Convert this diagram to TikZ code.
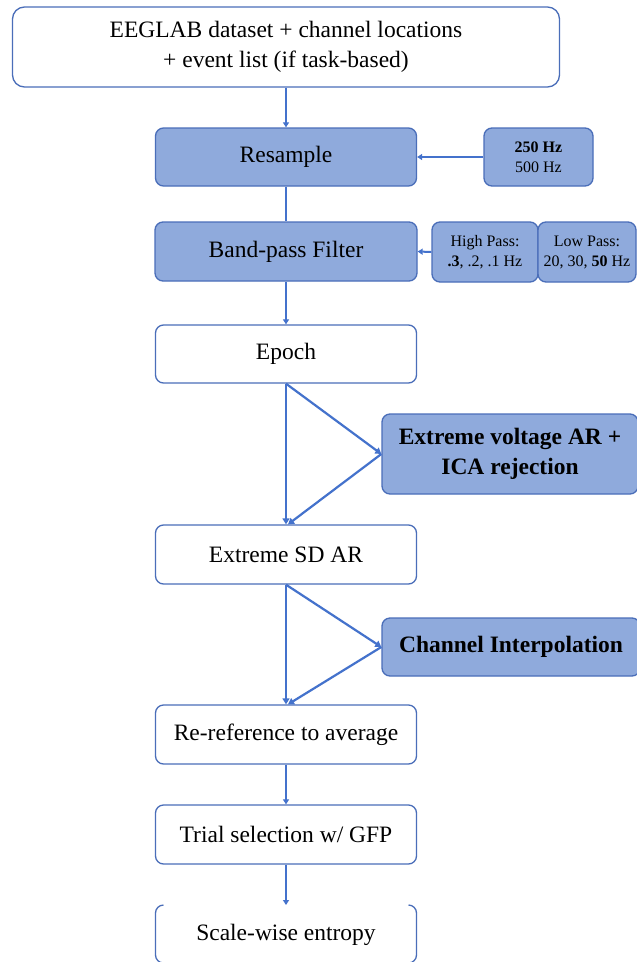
\documentclass[tikz,border=0pt]{standalone}
\usepackage{fontspec}
\setmainfont{Liberation Serif}
\usetikzlibrary{arrows.meta}
\definecolor{boxblue}{RGB}{143,170,220}
\definecolor{edgeblue}{RGB}{74,110,185}
\definecolor{linkblue}{RGB}{68,114,204}
\begin{document}
\begin{tikzpicture}[x=1pt,y=1pt,
  basebox/.style={draw=edgeblue, line width=1.3pt, rounded corners=8pt, align=center, inner sep=0pt,
    font=\fontsize{23.5}{30}\selectfont},
  whitebox/.style={basebox, fill=white},
  bluebox/.style={basebox, fill=boxblue},
  smallbox/.style={basebox, fill=boxblue, font=\fontsize{16}{20}\selectfont},
  link/.style={draw=linkblue, line width=2pt},
  arr/.style={link, -{Triangle[length=5pt,width=6pt]}},
  diag/.style={draw=linkblue, line width=2.2pt, -{Triangle[length=6pt,width=7pt]}}
]
\clip (0,0) rectangle (637,-962);
\fill[white] (0,0) rectangle (637,-962);

\node[whitebox, rounded corners=12pt, minimum width=547pt, minimum height=80pt] (top) at (286,-47)
  {EEGLAB dataset + channel locations\\+ event list (if task-based)};
\node[bluebox, minimum width=261pt, minimum height=58pt] (res) at (286,-157) {Resample};
\node[smallbox, minimum width=109pt, minimum height=58pt] (hz) at (538.5,-157) {\textbf{250 Hz}\\500 Hz};
\node[bluebox, minimum width=262pt, minimum height=59pt] (band) at (286,-251.5) {Band-pass Filter};
\node[smallbox, minimum width=106pt, minimum height=60pt] (hp) at (485,-252) {High Pass:\\\textbf{.3}, .2, .1 Hz};
\node[smallbox, minimum width=98pt, minimum height=60pt] (lp) at (587,-252) {Low Pass:\\20, 30, \textbf{50} Hz};
\node[whitebox, minimum width=261pt, minimum height=58pt] (epoch) at (286,-354) {Epoch};
\node[bluebox, minimum width=256pt, minimum height=80pt, font=\fontsize{23.5}{30}\selectfont\bfseries] (ev) at (510,-454)
  {Extreme voltage AR +\\ICA rejection};
\node[whitebox, minimum width=261pt, minimum height=59pt] (sd) at (286,-554.5) {Extreme SD AR};
\node[bluebox, minimum width=258pt, minimum height=58pt, font=\fontsize{23.5}{30}\selectfont\bfseries] (ci) at (511,-647)
  {Channel Interpolation};
\node[whitebox, minimum width=261pt, minimum height=59pt] (rr) at (286,-734.5) {Re-reference to average};
\node[whitebox, minimum width=261pt, minimum height=59pt] (ts) at (286,-834.5) {Trial selection w/ GFP};

% last box, drawn without its top edge as in the picture
\draw[draw=edgeblue, line width=1.3pt] (163.5,-905) arc[start angle=90, end angle=180, radius=8pt]
  -- (155.5,-955) arc[start angle=180, end angle=270, radius=8pt] -- (408.5,-963)
  arc[start angle=270, end angle=360, radius=8pt] -- (416.5,-913)
  arc[start angle=0, end angle=90, radius=8pt];
\node[font=\fontsize{23.5}{30}\selectfont, inner sep=0pt] (se) at (286,-935) {Scale-wise entropy};
\coordinate (setop) at (286,-905);

% connectors
\draw[arr] (top.south) -- (res.north);
\draw[link] (res.south) -- (band.north);
\draw[arr] (band.south) -- (epoch.north);
\draw[arr] (hz.west) -- (res.east);
\draw[arr] (hp.west) -- (band.east);

\draw[diag] (epoch.south) -- (sd.north);
\draw[diag] (epoch.south) -- (ev.west);
\draw[diag] (ev.west) -- ([xshift=2pt]sd.north);

\draw[diag] (sd.south) -- (rr.north);
\draw[diag] (sd.south) -- (ci.west);
\draw[diag] (ci.west) -- ([xshift=2pt]rr.north);

\draw[arr] (rr.south) -- (ts.north);
\draw[arr] (ts.south) -- (setop);
\end{tikzpicture}
\end{document}
